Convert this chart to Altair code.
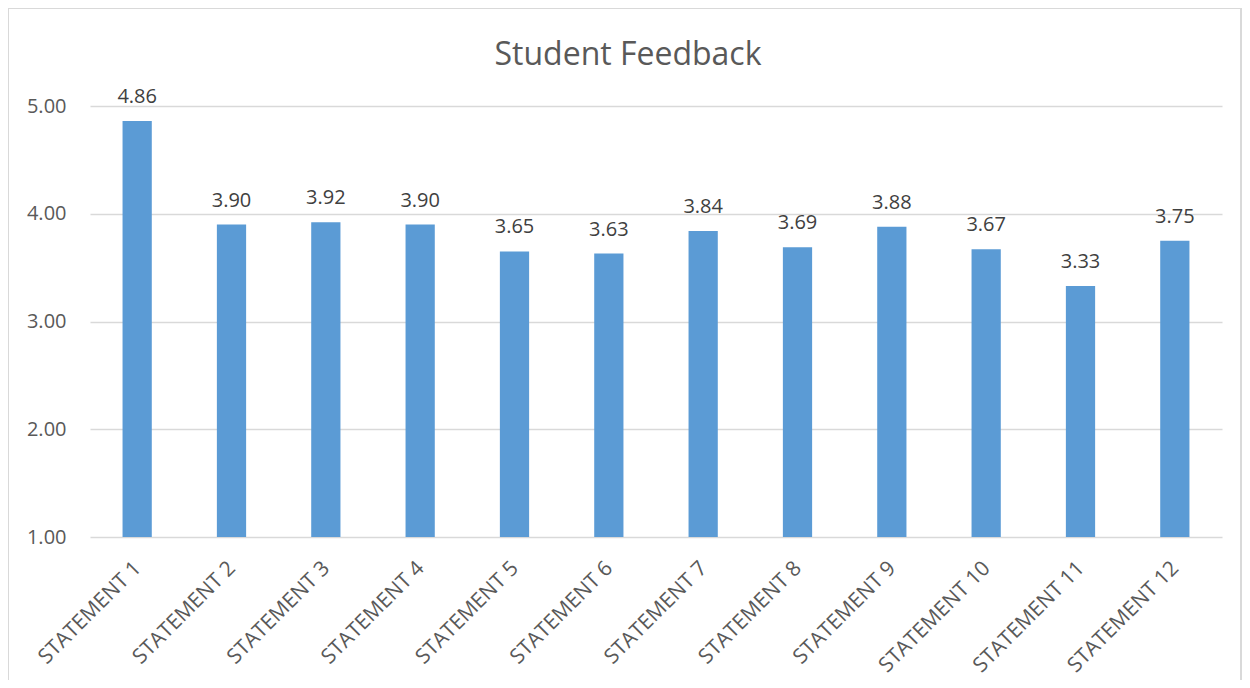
import altair as alt
import pandas as pd

categories = ["STATEMENT 1", "STATEMENT 2", "STATEMENT 3", "STATEMENT 4",
              "STATEMENT 5", "STATEMENT 6", "STATEMENT 7", "STATEMENT 8",
              "STATEMENT 9", "STATEMENT 10", "STATEMENT 11", "STATEMENT 12"]
scores = [4.86, 3.90, 3.92, 3.90, 3.65, 3.63, 3.84, 3.69, 3.88, 3.67, 3.33, 3.75]
y_ticks = [1, 2, 3, 4, 5]
title_text = "Student Feedback"

df = pd.DataFrame({"statement": categories, "score": scores})

FONT = "Open Sans"
TEXT = "#595959"

W, H = 1132, 431

xenc = alt.X("statement:N", sort=categories, title=None,
             scale=alt.Scale(paddingInner=0.69, paddingOuter=0.345),
             axis=alt.Axis(labelAngle=-45, labelFontSize=21, labelColor=TEXT,
                           labelFont=FONT, domain=False, ticks=False,
                           labelPadding=20, labelOffset=-7))
yscale = alt.Scale(domain=[1, 5], nice=False, zero=False)

bars = alt.Chart(df).mark_bar(color="#5B9BD5").encode(
    x=xenc,
    y=alt.Y("score:Q", scale=yscale, title=None,
            axis=alt.Axis(values=y_ticks, format=".2f", labelFontSize=20,
                          labelColor=TEXT, labelFont=FONT, domain=False,
                          ticks=False, labelPadding=24, gridColor="#D9D9D9",
                          gridWidth=1.5)),
    y2=alt.datum(1),
)

labels = alt.Chart(df).mark_text(fontSize=20, font=FONT, color="#404040",
                                 baseline="alphabetic", dy=-18).encode(
    x=alt.X("statement:N", sort=categories),
    y=alt.Y("score:Q", scale=yscale),
    text=alt.Text("score:Q", format=".2f"),
)

border = alt.Chart(alt.Data(values=[{}])).mark_rect(
    fill="transparent", stroke="#D9D9D9", strokeWidth=2).encode(
    x=alt.value(-82), x2=alt.value(1151), y=alt.value(-98), y2=alt.value(700)
)

title = alt.Chart(alt.Data(values=[{"t": title_text}])).mark_text(
    fontSize=32, font=FONT, color=TEXT, align="center",
    baseline="alphabetic").encode(
    x=alt.value(538), y=alt.value(-41), text="t:N"
)

chart = alt.layer(border, bars, labels, title).properties(
    width=W, height=H,
    autosize=alt.AutoSizeParams(type="none"),
    padding={"left": 82, "top": 98, "right": 20, "bottom": 143},
    view=alt.ViewBackground(stroke="transparent", strokeWidth=0),
).configure_view(strokeWidth=0, stroke="transparent").configure(background="white")

chart.save("out.html", embed_options={"renderer": "svg", "actions": False})
